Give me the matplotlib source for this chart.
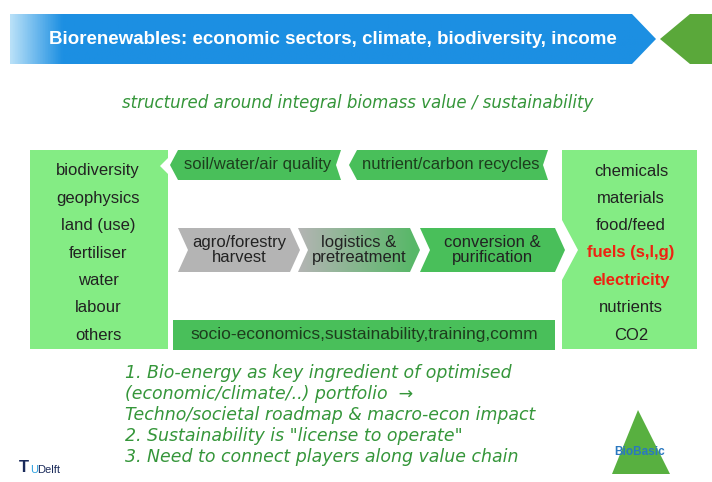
import matplotlib.pyplot as plt
import numpy as np
from matplotlib.patches import Polygon, Rectangle
from matplotlib.colors import LinearSegmentedColormap

plt.rcParams['font.family'] = ['Liberation Sans', 'DejaVu Sans']

title = "Biorenewables: economic sectors, climate, biodiversity, income"
subtitle = "structured around integral biomass value / sustainability"
inputs = ["biodiversity", "geophysics", "land (use)", "fertiliser", "water", "labour", "others"]
outputs = ["chemicals", "materials", "food/feed", "fuels (s,l,g)", "electricity", "nutrients", "CO2"]
output_red = [False, False, False, True, True, False, False]
top_boxes = ["soil/water/air quality", "nutrient/carbon recycles"]
chain = ["agro/forestry\nharvest", "logistics &\npretreatment", "conversion &\npurification"]
bottom_bar = "socio-economics,sustainability,training,comm"
notes = ["1. Bio-energy as key ingredient of optimised",
         "(economic/climate/..) portfolio  \u2192",
         "Techno/societal roadmap & macro-econ impact",
         "2. Sustainability is \"license to operate\"",
         "3. Need to connect players along value chain"]

LIGHT = '#84ec84'
DARK = '#49bf5a'
GRAY = '#b4b4b4'
TXT_GREEN = '#35963a'

fig = plt.figure(figsize=(7.12, 4.82), dpi=100)
ax = fig.add_axes([0, 0, 1, 1])
ax.set_xlim(0, 712)
ax.set_ylim(482, 0)
ax.axis('off')


def gradient_fill(poly, x0, x1, y0, y1, c0, c1, frac):
    ax.add_patch(poly)
    poly.set_facecolor('none')
    poly.set_edgecolor('none')
    cmap = LinearSegmentedColormap.from_list('g', [(0, c0), (frac, c1), (1, c1)])
    grad = np.linspace(0, 1, 256).reshape(1, -1)
    im = ax.imshow(grad, cmap=cmap, extent=(x0, x1, y1, y0), aspect='auto', zorder=1)
    im.set_clip_path(poly)


# banner
banner = Polygon([(10, 14), (632, 14), (656, 39), (632, 64), (10, 64)], closed=True)
gradient_fill(banner, 10, 656, 14, 64, '#b8e0f8', '#1c8fe2', 0.08)
ax.add_patch(Polygon([(660, 39), (690, 14), (712, 14), (712, 64), (690, 64)],
                     closed=True, facecolor='#5aa83a', edgecolor='none'))
ax.text(333, 39, title, color='white', fontsize=13.5, fontweight='bold',
        ha='center', va='center', zorder=3)

ax.text(358, 103, subtitle, color=TXT_GREEN, fontsize=12, style='italic',
        ha='center', va='center', family='DejaVu Sans')

# left input box
ax.add_patch(Polygon([(30, 150), (168, 150), (168, 158), (160, 166), (168, 174),
                      (168, 349), (30, 349)], closed=True, facecolor=LIGHT, edgecolor='none'))
ys = np.linspace(171, 335, len(inputs))
for y, t in zip(ys, inputs):
    ax.text(98, y, t, fontsize=12, ha='center', va='center', color='#222222')

# right output box
ax.add_patch(Polygon([(562, 150), (697, 150), (697, 349), (562, 349), (562, 280),
                      (578, 250), (562, 220)], closed=True, facecolor=LIGHT, edgecolor='none'))
for y, t, red in zip(ys, outputs, output_red):
    ax.text(631, y, t, fontsize=12, ha='center', va='center',
            color='#ee2211' if red else '#222222', fontweight='bold' if red else 'normal')

# top arrows (pointing left)
top_x = [(170, 341), (349, 548)]
for (x0, x1), t in zip(top_x, top_boxes):
    ax.add_patch(Polygon([(x0, 165), (x0 + 8, 150), (x1, 150), (x1 - 5, 165), (x1, 180),
                          (x0 + 8, 180)], closed=True, facecolor=DARK, edgecolor='none'))
    ax.text((x0 + x1) / 2 + 2, 165, t, fontsize=12, ha='center', va='center', color='#1d3d1d')

# value chain chevrons
chain_x = [(178, 290), (298, 410), (420, 555)]
for i, ((x0, x1), t) in enumerate(zip(chain_x, chain)):
    pts = [(x0, 228), (x1, 228), (x1 + 10, 250), (x1, 272), (x0, 272), (x0 + 10, 250)]
    if i == 0:
        ax.add_patch(Polygon(pts, closed=True, facecolor=GRAY, edgecolor='none'))
    elif i == 1:
        gradient_fill(Polygon(pts, closed=True), x0, x1 + 10, 228, 272, '#b4b4b4', '#58b868', 0.95)
    else:
        ax.add_patch(Polygon(pts, closed=True, facecolor=DARK, edgecolor='none'))
    ax.text((x0 + x1) / 2 + 5, 250, t, fontsize=12, ha='center', va='center',
            color='#222222', linespacing=1.0, zorder=3)

# bottom bar
ax.add_patch(Rectangle((173, 320), 382, 30, facecolor=DARK, edgecolor='none'))
ax.text(364, 335, bottom_bar, fontsize=12.5, ha='center', va='center', color='#1d3d1d')

# notes
for i, t in enumerate(notes):
    ax.text(125, 373 + i * 21, t, fontsize=12.5, style='italic', color=TXT_GREEN,
            ha='left', va='center', family='DejaVu Sans')

# logos
ax.text(19, 468, "T", fontsize=12, color='#1a2a5a', fontweight='bold', va='center')
ax.text(30, 470, "U", fontsize=8, color='#2aa0e0', va='center')
ax.text(37, 470, "Delft", fontsize=8, color='#1a2a5a', va='center')
ax.add_patch(Polygon([(638, 410), (670, 474), (612, 474)], closed=True,
                     facecolor='#58b040', edgecolor='none'))
ax.text(640, 452, "BioBasic", fontsize=8.5, color='#2a78c0', fontweight='bold',
        ha='center', va='center')

fig.savefig('out.png', dpi=100)
